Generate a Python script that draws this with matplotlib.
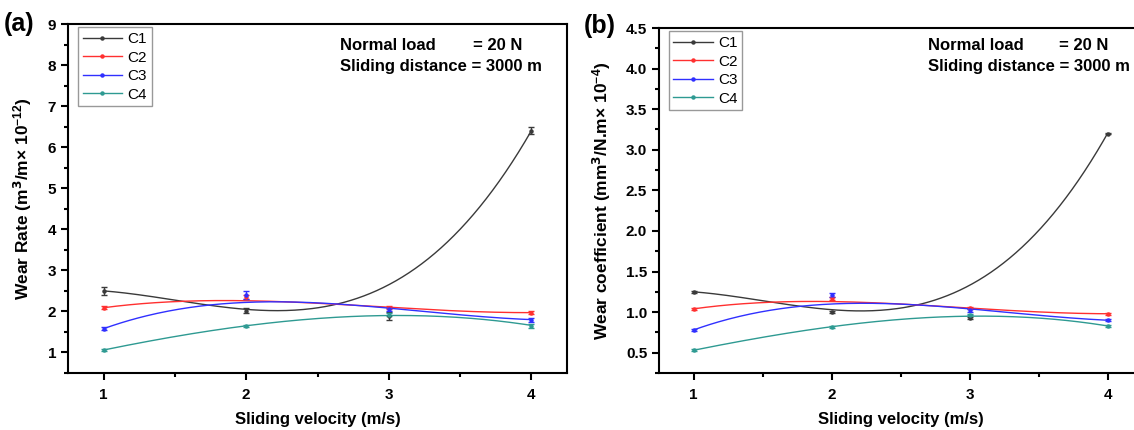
import numpy as np
import matplotlib
matplotlib.use("Agg")
import matplotlib.pyplot as plt
from matplotlib.ticker import MultipleLocator

plt.rcParams['font.family'] = ['Liberation Sans', 'DejaVu Sans']
plt.rcParams['mathtext.default'] = 'regular'

# ---------------- data ----------------
velocity = [1, 2, 3, 4]
series = ["C1", "C2", "C3", "C4"]
colors = ["#3a3a3a", "#ff3030", "#3030ff", "#2e9a92"]

# (a) wear rate, measured points
rate_c1 = [2.50, 2.02, 1.88, 6.40]
rate_c2 = [2.09, 2.35, 2.09, 1.97]
rate_c3 = [1.58, 2.40, 2.05, 1.80]
rate_c4 = [1.06, 1.65, 1.92, 1.65]
rate_err_c1 = [0.10, 0.06, 0.10, 0.08]
rate_err_c2 = [0.03, 0.05, 0.03, 0.03]
rate_err_c3 = [0.03, 0.09, 0.04, 0.05]
rate_err_c4 = [0.03, 0.03, 0.04, 0.05]
# (a) smoothed curve values at each velocity
rate_fit_c1 = [2.50, 2.05, 2.65, 6.40]
rate_fit_c2 = [2.09, 2.26, 2.10, 1.97]
rate_fit_c3 = [1.58, 2.22, 2.08, 1.80]
rate_fit_c4 = [1.06, 1.65, 1.90, 1.66]

# (b) wear coefficient, measured points
coef_c1 = [1.25, 1.00, 0.93, 3.20]
coef_c2 = [1.04, 1.17, 1.05, 0.98]
coef_c3 = [0.78, 1.21, 1.02, 0.90]
coef_c4 = [0.53, 0.82, 0.97, 0.83]
coef_err_c1 = [0.01, 0.015, 0.015, 0.01]
coef_err_c2 = [0.01, 0.02, 0.01, 0.01]
coef_err_c3 = [0.01, 0.02, 0.02, 0.01]
coef_err_c4 = [0.01, 0.01, 0.01, 0.01]
# (b) smoothed curve values
coef_fit_c1 = [1.25, 1.03, 1.33, 3.20]
coef_fit_c2 = [1.04, 1.13, 1.05, 0.98]
coef_fit_c3 = [0.78, 1.10, 1.04, 0.90]
coef_fit_c4 = [0.53, 0.82, 0.95, 0.83]

W, H = 1134, 430
fig = plt.figure(figsize=(W / 100, H / 100), dpi=100)

def ax_rect(l, r, t, b):
    return [l / W, 1 - b / H, (r - l) / W, (b - t) / H]

ax_a = fig.add_axes(ax_rect(68, 567, 24, 373))
ax_b = fig.add_axes(ax_rect(659, 1142, 28, 373))

def draw(ax, pts, errs, fits, ylim, ymaj, ymin, ylabel, leg_anchor, ylpad):
    xs = np.asarray(velocity, dtype=float)
    xx = np.linspace(xs.min(), xs.max(), 200)
    handles = []
    for name, col, p, e, f in zip(series, colors, pts, errs, fits):
        coeffs = np.polyfit(xs, f, 3)
        ax.plot(xx, np.polyval(coeffs, xx), color=col, lw=1.0)
        ax.errorbar(xs, p, yerr=e, fmt='o', ms=2.2, color=col, ecolor=col,
                    elinewidth=1.0, capsize=2.5, capthick=1.0)
        h, = ax.plot([], [], color=col, lw=1.0, marker='o', ms=2.2, label=name)
        handles.append(h)
    ax.set_xlim(0.75, 4.25)
    ax.set_ylim(*ylim)
    ax.xaxis.set_major_locator(MultipleLocator(1))
    ax.xaxis.set_minor_locator(MultipleLocator(0.5))
    ax.yaxis.set_major_locator(MultipleLocator(ymaj))
    ax.yaxis.set_minor_locator(MultipleLocator(ymin))
    ax.tick_params(which='both', direction='out', width=1.5, top=False, right=False)
    ax.tick_params(which='major', length=5, labelsize=11)
    ax.tick_params(which='minor', length=3)
    ax.tick_params(axis='x', pad=6)
    for lab in ax.get_xticklabels() + ax.get_yticklabels():
        lab.set_fontweight('bold')
    for s in ax.spines.values():
        s.set_linewidth(1.5)
    ax.set_xlabel("Sliding velocity (m/s)", fontsize=12, fontweight='bold', labelpad=7)
    ax.set_ylabel(ylabel, fontsize=12.5, fontweight='bold', labelpad=ylpad)
    leg = ax.legend(handles=handles, loc='upper left', bbox_to_anchor=leg_anchor,
                    borderaxespad=0, fontsize=11, handlelength=2.6, handletextpad=0.35,
                    labelspacing=0.3, borderpad=0.3, fancybox=False, framealpha=1)
    leg.get_frame().set_edgecolor('#999999')
    leg.get_frame().set_linewidth(1.0)

draw(ax_a,
     [rate_c1, rate_c2, rate_c3, rate_c4],
     [rate_err_c1, rate_err_c2, rate_err_c3, rate_err_c4],
     [rate_fit_c1, rate_fit_c2, rate_fit_c3, rate_fit_c4],
     (0.5, 9), 1, 0.5,
     r"Wear Rate (m$^{\mathbf{3}}$/m$\times$ 10$^{-12}$)", (0.02, 0.99), 10)
draw(ax_b,
     [coef_c1, coef_c2, coef_c3, coef_c4],
     [coef_err_c1, coef_err_c2, coef_err_c3, coef_err_c4],
     [coef_fit_c1, coef_fit_c2, coef_fit_c3, coef_fit_c4],
     (0.25, 4.5), 0.5, 0.25,
     r"Wear coefficient (mm$^{\mathbf{3}}$/N.m$\times$ 10$^{-4}$)", (0.02, 0.99), 9)

tk = dict(fontsize=12, fontweight='bold', va='center', ha='left')
fig.text(340 / W, 1 - 45 / H, "Normal load", **tk)
fig.text(473 / W, 1 - 45 / H, "= 20 N", **tk)
fig.text(340 / W, 1 - 66 / H, "Sliding distance = 3000 m", **tk)
fig.text(928 / W, 1 - 45 / H, "Normal load", **tk)
fig.text(1059 / W, 1 - 45 / H, "= 20 N", **tk)
fig.text(928 / W, 1 - 66 / H, "Sliding distance = 3000 m", **tk)

fig.text(4 / W, 1 - 24 / H, "(a)", fontsize=18, fontweight='bold', va='center', ha='left')
fig.text(584 / W, 1 - 26 / H, "(b)", fontsize=18, fontweight='bold', va='center', ha='left')

fig.savefig("out.png", dpi=100)
